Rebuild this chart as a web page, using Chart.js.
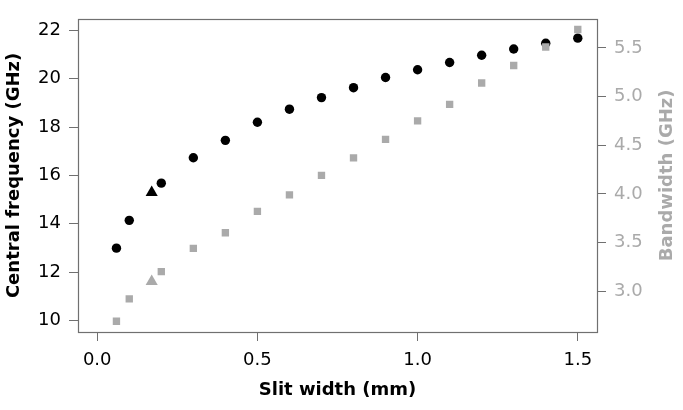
<!DOCTYPE html>
<html>
<head>
<meta charset="utf-8">
<script src="https://cdn.jsdelivr.net/npm/chart.js@4"></script>
<style>
  html, body { margin:0; padding:0; background:#fff; }
  #wrap { width:683px; height:410px; }
</style>
</head>
<body>
<div id="wrap"><canvas id="chart" width="683" height="410"></canvas></div>
<script>
// slit width (mm)
const slitWidth = [0.06, 0.1, 0.2, 0.3, 0.4, 0.5, 0.6, 0.7, 0.8, 0.9, 1.0, 1.1, 1.2, 1.3, 1.4, 1.5];
// central frequency (GHz), left axis
const centralFreq = [12.99, 14.14, 15.68, 16.73, 17.45, 18.20, 18.74, 19.22, 19.63, 20.05, 20.37, 20.67, 20.97, 21.23, 21.47, 21.68];
// bandwidth (GHz), right axis
const bandwidth = [2.69, 2.92, 3.20, 3.44, 3.60, 3.82, 3.99, 4.19, 4.37, 4.56, 4.75, 4.92, 5.14, 5.32, 5.51, 5.69];
// the single triangle point
const triX = [0.17];
const triFreq = [15.29];
const triBw = [3.10];

const xTicks = [0, 0.5, 1.0, 1.5];
const freqTicks = [10, 12, 14, 16, 18, 20, 22];
const bwTicks = [3.0, 3.5, 4.0, 4.5, 5.0, 5.5];

const BLACK = '#000';
const GRAY = '#aaaaaa';
const AXIS = '#707070';
const FONT = 'DejaVu Sans, sans-serif';

const pts = (xs, ys) => xs.map((x, i) => ({ x: x, y: ys[i] }));
const fixTicks = vals => scale => { scale.ticks = vals.map(v => ({ value: v })); };

// plot frame + right axis title (reads bottom-to-top)
const framePlugin = {
  id: 'frame',
  afterDraw(chart){
    const { ctx, chartArea: a } = chart;
    ctx.save();
    ctx.strokeStyle = AXIS;
    ctx.lineWidth = 1.2;
    ctx.strokeRect(Math.round(a.left) + 0.5, Math.round(a.top) + 0.5,
      Math.round(a.right - a.left), Math.round(a.bottom - a.top));
    ctx.translate(667, (a.top + a.bottom) / 2);
    ctx.rotate(-Math.PI / 2);
    ctx.fillStyle = GRAY;
    ctx.font = 'bold 18px ' + FONT;
    ctx.textAlign = 'center';
    ctx.textBaseline = 'middle';
    ctx.fillText('Bandwidth (GHz)', 0, 0);
    ctx.restore();
  }
};

new Chart(document.getElementById('chart'), {
  type: 'scatter',
  data: {
    datasets: [
      { data: pts(slitWidth, bandwidth), yAxisID: 'y2', pointStyle: 'rect', pointRadius: 5.2,
        backgroundColor: GRAY, borderWidth: 0, order: 0 },
      { data: pts(triX, triBw), yAxisID: 'y2', pointStyle: 'triangle', pointRadius: 7,
        backgroundColor: GRAY, borderWidth: 0, order: 0 },
      { data: pts(slitWidth, centralFreq), yAxisID: 'y', pointStyle: 'circle', pointRadius: 4.7,
        backgroundColor: BLACK, borderWidth: 0, order: 1 },
      { data: pts(triX, triFreq), yAxisID: 'y', pointStyle: 'triangle', pointRadius: 7,
        backgroundColor: BLACK, borderWidth: 0, order: 1 }
    ]
  },
  options: {
    responsive: false,
    animation: false,
    events: [],
    layout: { padding: { top: 6 } },
    plugins: { legend: { display: false }, tooltip: { enabled: false } },
    elements: { point: { hoverRadius: 0 } },
    scales: {
      x: {
        type: 'linear', min: -0.06, max: 1.56,
        afterBuildTicks: fixTicks(xTicks),
        afterFit(s){ s.height = 78; },
        grid: { drawOnChartArea: false, drawTicks: true, tickLength: 9, color: AXIS, tickColor: AXIS },
        border: { display: false },
        ticks: { color: BLACK, font: { family: FONT, size: 18 }, padding: 9,
          callback: v => v.toFixed(1) },
        title: { display: true, text: 'Slit width (mm)', color: BLACK,
          font: { family: FONT, size: 18, weight: 'bold' }, padding: { top: 0, bottom: 9 } }
      },
      y: {
        type: 'linear', position: 'left', min: 9.52, max: 22.48,
        afterBuildTicks: fixTicks(freqTicks),
        afterFit(s){ s.width = 78; },
        grid: { drawOnChartArea: false, drawTicks: true, tickLength: 9, color: AXIS, tickColor: AXIS },
        border: { display: false },
        ticks: { color: BLACK, font: { family: FONT, size: 18 }, padding: 8,
          callback: v => String(v) },
        title: { display: true, text: 'Central frequency (GHz)', color: BLACK,
          font: { family: FONT, size: 18, weight: 'bold' }, padding: { top: 4, bottom: 0 } }
      },
      y2: {
        type: 'linear', position: 'right', min: 2.58, max: 5.80,
        afterBuildTicks: fixTicks(bwTicks),
        afterFit(s){ s.width = 86; },
        grid: { drawOnChartArea: false, drawTicks: true, tickLength: 9, color: AXIS, tickColor: AXIS },
        border: { display: false },
        ticks: { color: GRAY, font: { family: FONT, size: 18 }, padding: 8,
          callback: v => v.toFixed(1) }
      }
    }
  },
  plugins: [framePlugin]
});
</script>
</body>
</html>
